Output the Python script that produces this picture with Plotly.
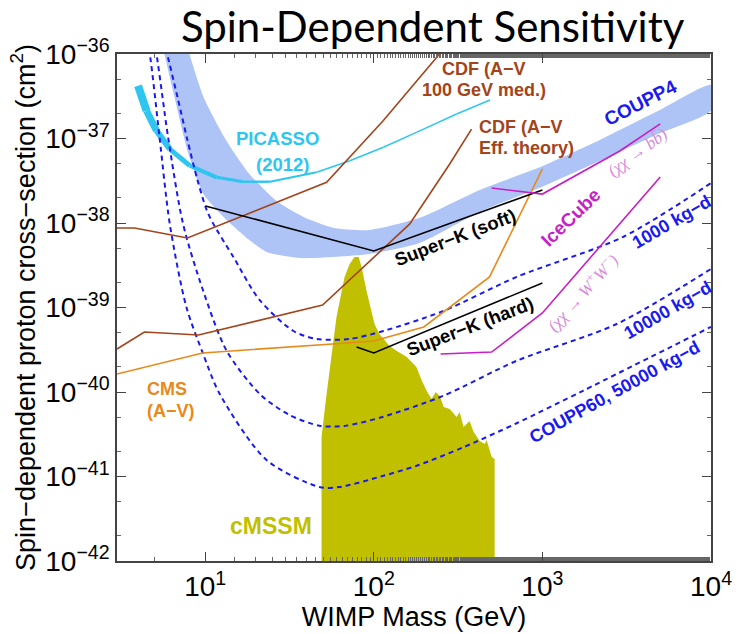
import plotly.graph_objects as go

# ---------------- data (WIMP mass in GeV, cross-section in cm^2) ----------------
coupp4_upper_mass = [8.07, 9.77, 13.4, 18.3, 26.5, 38.3, 58.5, 94.4, 187, 425, 1005, 2188, 4966, 10000]
coupp4_upper_sigma = [1e-36, 3.10e-37, 9.34e-38, 3.80e-38, 1.82e-38, 1.18e-38, 8.73e-39, 8.26e-39,
                      1.15e-38, 2.46e-38, 4.73e-38, 9.6e-38, 2.17e-37, 4.30e-37]
coupp4_lower_mass = [5.73, 6.57, 7.96, 9.77, 12.84, 18.3, 23.1, 36.3, 56.9, 94.4, 187, 425, 1005, 2188, 4966, 10000]
coupp4_lower_sigma = [1e-36, 3.10e-37, 6.56e-38, 2.20e-38, 1.18e-38, 6.30e-39, 4.54e-39, 3.85e-39,
                      3.96e-39, 4.30e-39, 5.79e-39, 1.35e-38, 2.70e-38, 5.4e-38, 1.15e-37, 2.15e-37]

cmssm_mass = [49.0, 49.0, 52.5, 56.2, 60.1, 67.1, 71.9, 76.9, 81.3, 84.7, 90.6, 101, 108, 124, 137, 157,
              179, 192, 206, 220, 233, 246, 260, 282, 310, 323, 341, 370, 391, 425, 455, 467, 480, 500, 521, 521]
cmssm_sigma = [1e-43, 2.93e-41, 9.46e-41, 2.60e-40, 7.73e-40, 2.30e-39, 3.27e-39, 3.96e-39, 3.96e-39,
               3.02e-39, 1.57e-39, 6.38e-40, 4.86e-40, 3.50e-40, 3.05e-40, 2.60e-40, 1.98e-40, 1.39e-40,
               1.03e-40, 8.27e-41, 1.0e-40, 8.97e-41, 6.64e-41, 6.29e-41, 5.06e-41, 5.80e-41, 3.85e-41,
               4.54e-41, 3.37e-41, 2.63e-41, 2.43e-41, 2.70e-41, 2.23e-41, 1.70e-41, 1.61e-41, 1e-43]

picasso_mass = [4.0, 4.49, 5.14, 6.17, 8.1, 11.7, 16.8, 24.2, 45.8, 72.1, 114, 179, 310, 489]
picasso_sigma = [4.22e-37, 2.13e-37, 1.24e-37, 7.5e-38, 4.77e-38, 3.47e-38, 3.08e-38, 3.08e-38,
                 3.98e-38, 5.46e-38, 7.87e-38, 1.18e-37, 1.95e-37, 2.86e-37]
picasso_widths = [8, 7, 6, 5, 4, 3, 2.4, 2, 1.7, 1.6, 1.5, 1.5, 1.5]

coupp60_1000_mass = [5.65, 5.95, 6.85, 7.85, 9.0, 10.2, 11.2, 14.7, 21.0, 33.4, 45.8, 71.8, 114, 259, 704, 2997, 10000]
coupp60_1000_sigma = [1.47e-36, 1e-36, 3.10e-37, 9.6e-38, 3.23e-38, 1.43e-38, 9.7e-39, 3.96e-39, 1.23e-39,
                      5.27e-40, 4.24e-40, 4.24e-40, 5.27e-40, 9.1e-40, 2.30e-39, 6.82e-39, 2.97e-38]
coupp60_10000_mass = [4.93, 5.14, 6.03, 7.40, 9.73, 13.4, 21.1, 31.6, 47.6, 67.1, 114, 258, 704, 2761, 10000]
coupp60_10000_sigma = [1.47e-36, 1e-36, 1.03e-37, 9.7e-39, 1.58e-39, 3.08e-40, 9.46e-41, 5.35e-41, 3.99e-41,
                       3.97e-41, 5.1e-41, 9.0e-41, 2.34e-40, 6.38e-40, 2.86e-39]
coupp60_50000_mass = [4.48, 4.69, 5.36, 6.17, 7.74, 9.73, 12.2, 23.1, 47.6, 62.7, 114, 179.5, 340, 704, 1750, 10000]
coupp60_50000_sigma = [1.47e-36, 1e-36, 1.04e-37, 9.7e-39, 1.01e-39, 2.82e-40, 9.46e-41, 1.57e-41, 7.52e-42,
                       7.5e-42, 1.02e-41, 1.34e-41, 2.22e-41, 4.27e-41, 1.04e-40, 5.9e-40]

cdf_med_mass = [3.0, 3.81, 7.85, 52.5, 114, 247, 282]
cdf_med_sigma = [8.73e-39, 8.73e-39, 6.64e-39, 3.03e-38, 1.63e-37, 1e-36, 1.39e-36]
cdf_eft_mass = [3.0, 4.36, 9.13, 49.7, 163, 282, 380]
cdf_eft_sigma = [3.23e-40, 5.13e-40, 4.73e-40, 1.07e-39, 9.7e-39, 4.99e-38, 1.29e-37]
cms_mass = [3.0, 9.64, 56.9, 99.7, 198, 486, 1000]
cms_sigma = [1.63e-40, 2.90e-40, 3.70e-40, 4.02e-40, 5.88e-40, 2.30e-39, 4.36e-38]

superk_soft_mass = [10.04, 100, 1000]
superk_soft_sigma = [1.59e-38, 4.67e-39, 2.46e-38]
superk_hard_mass = [79.1, 100, 1000]
superk_hard_sigma = [3.41e-40, 2.90e-40, 1.95e-39]

icecube_bb_mass = [500, 1000, 2876, 5000]
icecube_bb_sigma = [2.59e-38, 2.20e-38, 7.11e-38, 1.49e-37]
icecube_ww_mass = [249, 500, 1000, 5000]
icecube_ww_sigma = [2.82e-40, 2.97e-40, 8.61e-40, 3.50e-38]

y_tick_vals = [1e-42, 1e-41, 1e-40, 1e-39, 1e-38, 1e-37, 1e-36]
y_tick_text = ["10<sup>\u221242</sup>", "10<sup>\u221241</sup>", "10<sup>\u221240</sup>", "10<sup>\u221239</sup>",
               "10<sup>\u221238</sup>", "10<sup>\u221237</sup>", "10<sup>\u221236</sup>"]
x_tick_vals = [10, 100, 1000, 10000]
x_tick_text = ["10<sup>1</sup>", "10<sup>2</sup>", "10<sup>3</sup>", "10<sup>4</sup>"]

# ---------------- colours ----------------
BAND = "#aec3f6"
CYAN = "#2ec6f0"
BROWN = "#a3441a"
ORANGE = "#e8891a"
MAGENTA = "#c81ec8"
LIGHTMAG = "#d98ad9"
BLUE = "#1a1af0"
OLIVE = "#c0bf00"

fig = go.Figure()

# COUPP4 band
fig.add_trace(go.Scatter(
    x=coupp4_upper_mass + coupp4_lower_mass[::-1],
    y=coupp4_upper_sigma + coupp4_lower_sigma[::-1],
    mode="lines", fill="toself", fillcolor=BAND, line=dict(width=0, color=BAND, shape="spline", smoothing=0.6),
    hoverinfo="skip", showlegend=False))

# cMSSM region
fig.add_trace(go.Scatter(
    x=cmssm_mass, y=cmssm_sigma, mode="lines", fill="toself", fillcolor=OLIVE,
    line=dict(width=0, color=OLIVE), hoverinfo="skip", showlegend=False))

# PICASSO (tapering width)
for i, w in enumerate(picasso_widths):
    fig.add_trace(go.Scatter(
        x=picasso_mass[i:i + 2], y=picasso_sigma[i:i + 2], mode="lines",
        line=dict(color=CYAN, width=w), hoverinfo="skip", showlegend=False))

# COUPP60 projections
for mx, sy in [(coupp60_1000_mass, coupp60_1000_sigma),
               (coupp60_10000_mass, coupp60_10000_sigma),
               (coupp60_50000_mass, coupp60_50000_sigma)]:
    fig.add_trace(go.Scatter(x=mx, y=sy, mode="lines",
                             line=dict(color=BLUE, width=2, dash="5px,4px", shape="spline", smoothing=0.8),
                             hoverinfo="skip", showlegend=False))

for mx, sy, col in [(cdf_med_mass, cdf_med_sigma, BROWN), (cdf_eft_mass, cdf_eft_sigma, BROWN),
                    (cms_mass, cms_sigma, ORANGE),
                    (superk_soft_mass, superk_soft_sigma, "black"), (superk_hard_mass, superk_hard_sigma, "black"),
                    (icecube_bb_mass, icecube_bb_sigma, MAGENTA), (icecube_ww_mass, icecube_ww_sigma, MAGENTA)]:
    fig.add_trace(go.Scatter(x=mx, y=sy, mode="lines", line=dict(color=col, width=1.6),
                             hoverinfo="skip", showlegend=False))

# ---------------- annotations ----------------
SANS = "Liberation Sans, Arial, sans-serif"
SERIF = "Liberation Serif, Times New Roman, serif"


def lab(text, x, y, color, size=18, angle=0, xanchor="center", family=SANS):
    fig.add_annotation(text=text, x=x, y=y, xref="paper", yref="paper", showarrow=False,
                       textangle=angle, xanchor=xanchor, yanchor="middle",
                       font=dict(family=family, size=size, color=color))


lab("<b>PICASSO</b>", 0.271, 0.834, CYAN, size=18.5)
lab("<b>(2012)</b>", 0.278, 0.783, CYAN, size=18.5)
lab("<b>CDF (A\u2212V</b>", 0.618, 0.970, BROWN)
lab("<b>100 GeV med.)</b>", 0.618, 0.929, BROWN)
lab("<b>CDF (A\u2212V</b>", 0.606, 0.856, BROWN, xanchor="left")
lab("<b>Eff. theory)</b>", 0.606, 0.815, BROWN, xanchor="left")
lab("<b>COUPP4</b>", 0.882, 0.905, BLUE, size=19, angle=-27)
lab("<b>IceCube</b>", 0.764, 0.677, MAGENTA, size=19, angle=-44)
lab("<i>(\u03c7\u03c7 \u2192 bb\u0304)</i>", 0.876, 0.806, LIGHTMAG, size=17, angle=-36, family=SERIF)
lab("<i>(\u03c7\u03c7 \u2192 W<sup>+</sup>W<sup>\u2212</sup>)</i>", 0.783, 0.530, LIGHTMAG, size=17, angle=-48,
    family=SERIF)
lab("<b>1000 kg\u2212d</b>", 0.934, 0.668, BLUE, angle=-30)
lab("<b>10000 kg\u2212d</b>", 0.928, 0.495, BLUE, angle=-30)
lab("<b>COUPP60, 50000 kg\u2212d</b>", 0.838, 0.333, BLUE, angle=-29)
lab("<b>Super\u2212K (soft)</b>", 0.569, 0.639, "black", size=18.5, angle=-21)
lab("<b>Super\u2212K (hard)</b>", 0.594, 0.462, "black", size=18.5, angle=-21)
lab("<b>CMS</b>", 0.047, 0.339, ORANGE, xanchor="left")
lab("<b>(A\u2212V)</b>", 0.047, 0.296, ORANGE, xanchor="left")
lab("<b>cMSSM</b>", 0.259, 0.069, OLIVE, size=23)

axis_common = dict(
    type="log", showgrid=False, zeroline=False, showline=True, linecolor="#444", linewidth=1.5,
    mirror="allticks", ticks="inside", ticklen=9, tickwidth=1, tickcolor="#444",
    tickmode="array", automargin=False,
    minor=dict(ticks="inside", ticklen=4, tickcolor="#666", showgrid=False),
    tickfont=dict(family=SANS, size=28, color="black"),
)

fig.update_layout(
    width=737, height=633,
    margin=dict(l=117, r=26, t=54, b=72),
    paper_bgcolor="white", plot_bgcolor="white",
    title=dict(text="Spin-Dependent Sensitivity", x=0.587, y=0.957, xanchor="center", yanchor="middle",
               xref="container", yref="container",
               font=dict(family="Lato, Open Sans, sans-serif", size=42, color="black")),
    xaxis=dict(axis_common, range=[0.4771, 4], tickvals=x_tick_vals, ticktext=x_tick_text,
               title=dict(text="WIMP Mass (GeV)", font=dict(family=SANS, size=27, color="black"), standoff=0)),
    yaxis=dict(axis_common, range=[-42, -36], tickvals=y_tick_vals, ticktext=y_tick_text,
               title=dict(text="Spin\u2212dependent proton cross\u2212section (cm<sup>2</sup>)",
                          font=dict(family=SANS, size=27, color="black"), standoff=2)),
)

fig.write_html("out.html")
